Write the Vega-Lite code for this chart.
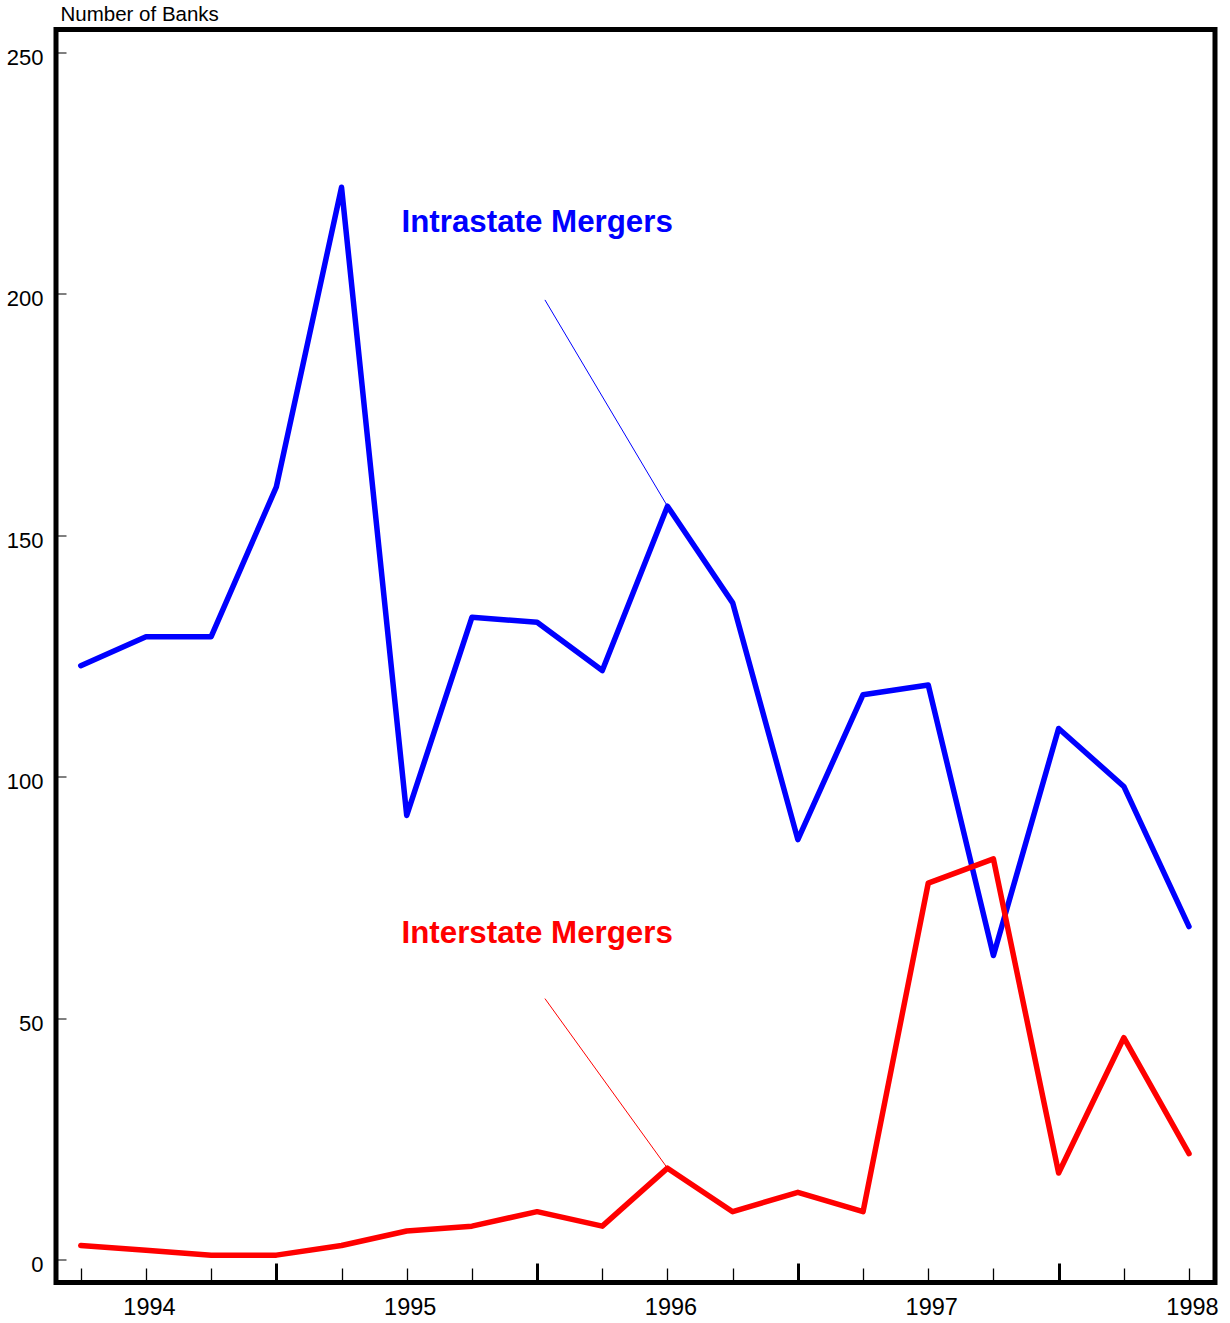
{
  "$schema": "https://vega.github.io/schema/vega-lite/v6.json",
  "width": 1159,
  "height": 1253,
  "autosize": {"type": "none"},
  "padding": {"left": 56, "top": 29.5, "right": 15, "bottom": 40.5},
  "background": "white",
  "config": {
    "view": {"stroke": "black", "strokeWidth": 5, "fill": "white"},
    "font": "Liberation Sans",
    "axis": {"grid": false, "domain": false, "labelFont": "Liberation Sans", "labelColor": "black", "labelFontSize": 21, "tickColor": "black"}
  },
  "datasets": {
    "series": [
      {"quarter": 1993.75, "series": "Intrastate Mergers", "banks": 123},
      {"quarter": 1994.0, "series": "Intrastate Mergers", "banks": 129},
      {"quarter": 1994.25, "series": "Intrastate Mergers", "banks": 129},
      {"quarter": 1994.5, "series": "Intrastate Mergers", "banks": 160},
      {"quarter": 1994.75, "series": "Intrastate Mergers", "banks": 222},
      {"quarter": 1995.0, "series": "Intrastate Mergers", "banks": 92},
      {"quarter": 1995.25, "series": "Intrastate Mergers", "banks": 133},
      {"quarter": 1995.5, "series": "Intrastate Mergers", "banks": 132},
      {"quarter": 1995.75, "series": "Intrastate Mergers", "banks": 122},
      {"quarter": 1996.0, "series": "Intrastate Mergers", "banks": 156},
      {"quarter": 1996.25, "series": "Intrastate Mergers", "banks": 136},
      {"quarter": 1996.5, "series": "Intrastate Mergers", "banks": 87},
      {"quarter": 1996.75, "series": "Intrastate Mergers", "banks": 117},
      {"quarter": 1997.0, "series": "Intrastate Mergers", "banks": 119},
      {"quarter": 1997.25, "series": "Intrastate Mergers", "banks": 63},
      {"quarter": 1997.5, "series": "Intrastate Mergers", "banks": 110},
      {"quarter": 1997.75, "series": "Intrastate Mergers", "banks": 98},
      {"quarter": 1998.0, "series": "Intrastate Mergers", "banks": 69},
      {"quarter": 1993.75, "series": "Interstate Mergers", "banks": 3},
      {"quarter": 1994.0, "series": "Interstate Mergers", "banks": 2},
      {"quarter": 1994.25, "series": "Interstate Mergers", "banks": 1},
      {"quarter": 1994.5, "series": "Interstate Mergers", "banks": 1},
      {"quarter": 1994.75, "series": "Interstate Mergers", "banks": 3},
      {"quarter": 1995.0, "series": "Interstate Mergers", "banks": 6},
      {"quarter": 1995.25, "series": "Interstate Mergers", "banks": 7},
      {"quarter": 1995.5, "series": "Interstate Mergers", "banks": 10},
      {"quarter": 1995.75, "series": "Interstate Mergers", "banks": 7},
      {"quarter": 1996.0, "series": "Interstate Mergers", "banks": 19},
      {"quarter": 1996.25, "series": "Interstate Mergers", "banks": 10},
      {"quarter": 1996.5, "series": "Interstate Mergers", "banks": 14},
      {"quarter": 1996.75, "series": "Interstate Mergers", "banks": 10},
      {"quarter": 1997.0, "series": "Interstate Mergers", "banks": 78},
      {"quarter": 1997.25, "series": "Interstate Mergers", "banks": 83},
      {"quarter": 1997.5, "series": "Interstate Mergers", "banks": 18},
      {"quarter": 1997.75, "series": "Interstate Mergers", "banks": 46},
      {"quarter": 1998.0, "series": "Interstate Mergers", "banks": 22}
    ],
    "notes": [
      {"label": "Intrastate Mergers", "series": "Intrastate Mergers", "labelQuarter": 1994.98, "labelBanks": 212.8, "fromQuarter": 1995.53, "fromBanks": 198.7, "toQuarter": 1996.0, "toBanks": 156},
      {"label": "Interstate Mergers", "series": "Interstate Mergers", "labelQuarter": 1994.98, "labelBanks": 65.7, "fromQuarter": 1995.53, "fromBanks": 54.1, "toQuarter": 1996.0, "toBanks": 19}
    ]
  },
  "layer": [
    {
      "data": {"name": "series"},
      "mark": {"type": "line", "strokeWidth": 5.5, "strokeCap": "round", "strokeJoin": "round"},
      "encoding": {
        "x": {"field": "quarter", "type": "quantitative",
              "scale": {"domain": [1993.655, 1998.0997], "nice": false, "zero": false},
              "axis": {"orient": "bottom", "title": null, "labels": false, "values": [1993.75, 1994, 1994.25, 1994.5, 1994.75, 1995, 1995.25, 1995.5, 1995.75, 1996, 1996.25, 1996.5, 1996.75, 1997, 1997.25, 1997.5, 1997.75, 1998], "tickSize": -14.5, "tickWidth": 1.3, "tickColor": "black"}},
        "y": {"field": "banks", "type": "quantitative",
              "scale": {"domain": [-4.66, 254.66], "nice": false, "zero": false},
              "axis": {"orient": "left", "title": null, "labels": false, "values": [0, 50, 100, 150, 200, 250], "tickSize": -10, "tickWidth": 1, "tickColor": "black"}},
        "color": {"field": "series", "type": "nominal",
                  "scale": {"domain": ["Intrastate Mergers", "Interstate Mergers"], "range": ["#0000ff", "#ff0000"]},
                  "legend": null}
      }
    },
    {
      "data": {"name": "notes"},
      "mark": {"type": "rule", "strokeWidth": 1},
      "encoding": {
        "x": {"field": "fromQuarter", "type": "quantitative",
              "scale": {"domain": [1993.655, 1998.0997], "nice": false, "zero": false},
              "axis": {"orient": "bottom", "title": null, "labels": false, "values": [1994.5, 1995.5, 1996.5, 1997.5], "tickSize": -19.5, "tickWidth": 3, "tickColor": "black"}},
        "y": {"field": "fromBanks", "type": "quantitative",
              "scale": {"domain": [-4.66, 254.66], "nice": false, "zero": false},
              "axis": {"orient": "left", "title": "Number of Banks", "ticks": false, "values": [0, 50, 100, 150, 200, 250], "labelPadding": 13, "labelBaseline": "middle", "labelOffset": 5, "labelFontSize": 22, "labelColor": "black", "labelFont": "Liberation Sans",
                       "titleAngle": 0, "titleAlign": "left", "titleBaseline": "alphabetic", "titleX": 4, "titleY": -8.8, "titleFontSize": 20.5, "titleFontWeight": "normal", "titleColor": "black", "titleFont": "Liberation Sans"}},
        "x2": {"field": "toQuarter"},
        "y2": {"field": "toBanks"},
        "color": {"field": "series", "type": "nominal", "legend": null}
      }
    },
    {
      "data": {"name": "notes"},
      "mark": {"type": "text", "align": "left", "baseline": "alphabetic", "fontSize": 31.3, "fontWeight": "bold", "font": "Liberation Sans"},
      "encoding": {
        "x": {"field": "labelQuarter", "type": "quantitative",
              "scale": {"domain": [1993.655, 1998.0997], "nice": false, "zero": false},
              "axis": {"orient": "bottom", "title": null, "ticks": false, "values": [1994, 1995, 1996, 1997, 1998], "format": "d", "labelPadding": 13, "labelOffset": 3, "labelFlush": false, "labelFontSize": 23.5, "labelColor": "black", "labelFont": "Liberation Sans"}},
        "y": {"field": "labelBanks", "type": "quantitative",
              "scale": {"domain": [-4.66, 254.66], "nice": false, "zero": false},
              "axis": null},
        "text": {"field": "label"},
        "color": {"field": "series", "type": "nominal", "legend": null}
      }
    }
  ],
  "resolve": {"axis": {"x": "independent", "y": "independent"}}
}
